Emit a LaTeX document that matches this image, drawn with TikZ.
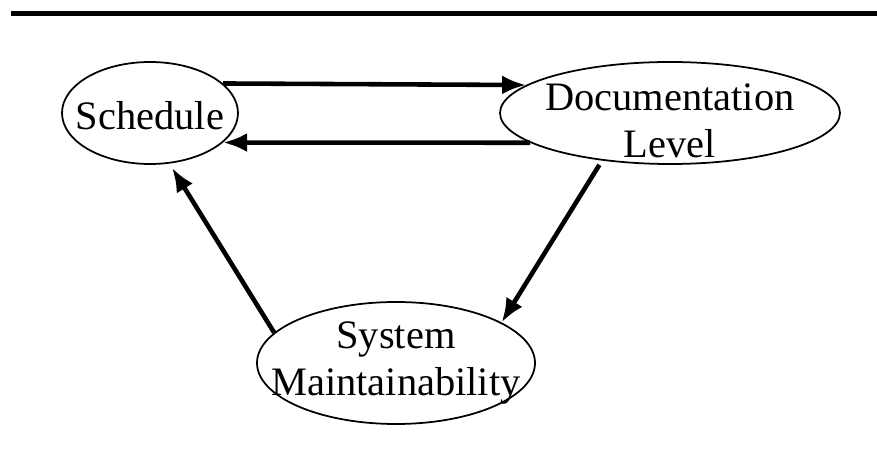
\documentclass[tikz,border=0pt]{standalone}
\usepackage{fontspec}
\setmainfont{Liberation Serif}
\usetikzlibrary{shapes.geometric,arrows.meta}
\tikzset{
  oval/.style={ellipse,draw,line width=1pt,inner sep=0pt},
  txt/.style={align=center,font=\fontsize{23}{27}\selectfont},
  arr/.style={line width=2.6pt,-{Latex[length=4.8mm,width=3.8mm]}}
}
\begin{document}
\begin{tikzpicture}
                \useasboundingbox (0,0) rectangle (17.54,-9.1);
                \draw[line width=2.4pt] (0.22,-0.27)--(17.54,-0.27);
                \node[oval,minimum width=3.52cm,minimum height=2.04cm] (sched) at (3.0,-2.26) {};
                \node[oval,minimum width=6.8cm,minimum height=2.04cm] (doc) at (13.4,-2.26) {};
                \node[oval,minimum width=5.56cm,minimum height=2.44cm] (sys) at (7.92,-7.26) {};
                \node[txt,yshift=-0.6mm] (schedtxt) at (sched) {Schedule};
                \node[txt,yshift=-1.6mm] (doctxt) at (doc) {Documentation\\Level};
                \node[txt] (systxt) at (sys) {System\\Maintainability};
                \draw[arr] (sched.22)--(doc.169);
                \draw[arr] (doc.192)--(sched.-22);
                \draw[arr,shorten <=1mm] (doc.-145)--(sys.21);
                \draw[arr,shorten >=1mm] (sys.166)--(sched.-69);
            \end{tikzpicture}
\end{document}
